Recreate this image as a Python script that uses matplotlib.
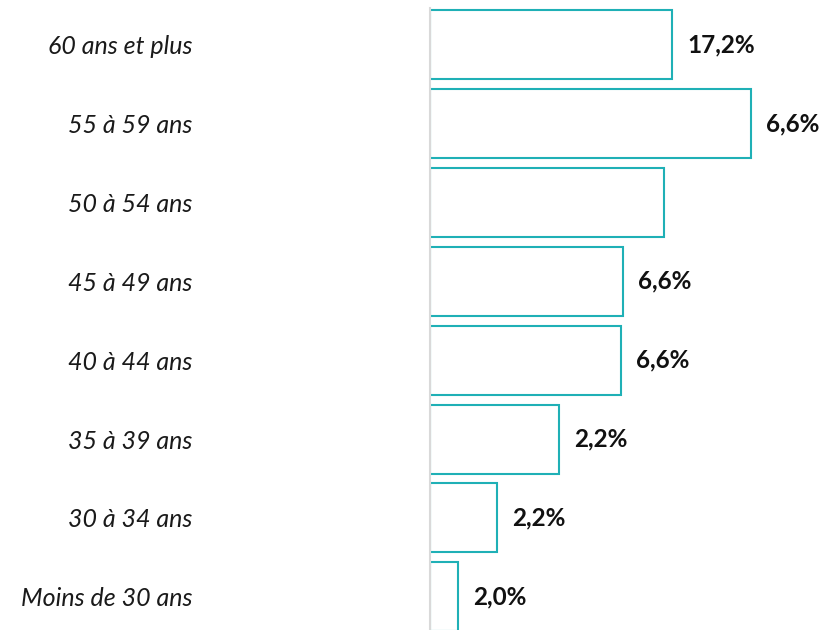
import matplotlib.pyplot as plt

# age groups, top to bottom as in the picture
groups = ['60 ans et plus', '55 à 59 ans', '50 à 54 ans', '45 à 49 ans',
          '40 à 44 ans', '35 à 39 ans', '30 à 34 ans', 'Moins de 30 ans']
# bar lengths as drawn (the printed labels don't match them)
bar_lengths = [242, 321, 234, 193, 191, 129, 67, 28]
value_labels = ['17,2%', '6,6%', '', '6,6%', '6,6%', '2,2%', '2,2%', '2,0%']

plt.rcParams['font.family'] = ['Lato', 'DejaVu Sans']

fig = plt.figure(figsize=(8.25, 6.3), dpi=100)
ax = fig.add_axes([430 / 825, 0, 395 / 825, 622 / 630])

pos = list(range(len(groups)))
ax.barh(pos, bar_lengths, height=0.875, color='white',
        edgecolor='#1FB0B6', linewidth=1.5)

for y, w, lab in zip(pos, bar_lengths, value_labels):
    if lab:
        ax.annotate(lab, (w, y), xytext=(11, 0), textcoords='offset points',
                    ha='left', va='center', fontsize=17.5, fontweight='bold',
                    color='#111111')

ax.set_xlim(0, 395)
ax.set_ylim(7.42, -0.463)
ax.set_yticks(pos)
ax.set_yticklabels(groups, fontsize=18, style='italic', color='#1a1a1a')
ax.tick_params(axis='y', length=0, pad=171)
ax.set_xticks([])
for s in ['top', 'right', 'bottom']:
    ax.spines[s].set_visible(False)
ax.spines['left'].set_color('#D9D9D9')
ax.spines['left'].set_linewidth(1.5)

plt.savefig('out.png', dpi=100)
